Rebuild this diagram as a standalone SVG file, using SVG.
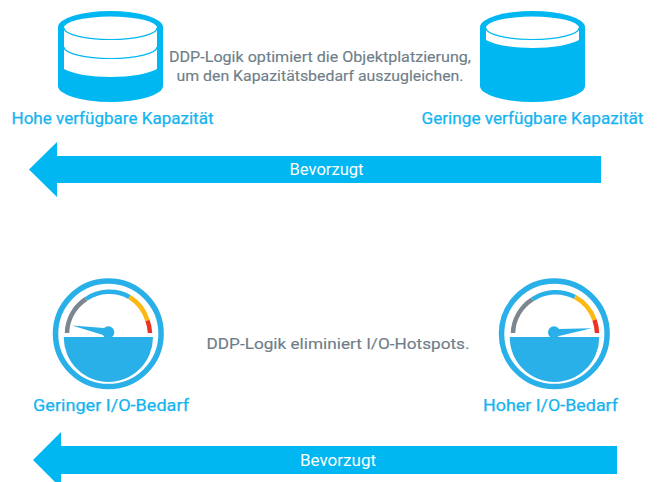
<svg xmlns="http://www.w3.org/2000/svg" width="661" height="482" viewBox="0 0 661 482">
<style>
text{font-family:Roboto,"Liberation Sans",sans-serif;text-anchor:middle;font-size:16.500px;font-weight:400}
.lab{fill:#14b4f0;stroke:#14b4f0;stroke-width:.25px}
.desc{fill:#6f7e89;font-size:15.500px;stroke:#6f7e89;stroke-width:.15px}
.wh{fill:#fff;font-size:16px}
.cyl{fill:#00b7f1}
.arrow{fill:#00b7f1}
.ring{fill:none;stroke:#2ab0e9;stroke-width:5.500}
.fillb{fill:#2ab0e9}
.arc{fill:none;stroke-width:4.500}
.ln{fill:none;stroke:#00b7f1;stroke-width:1.200}
</style>
<g id="cylinder-high">
<path class="cyl" d="M58 27A52.500 16 0 0 1 163 27V86A52.500 16 0 0 1 58 86Z"/>
<path fill="#fff" d="M64 28A46.500 11.500 0 0 1 157 28V69C148 74 130 77 110.500 77C91 77 73 74 64 69Z"/>
<path class="ln" d="M64 28A46.500 11.500 0 0 0 157 28M64 47A46.500 11.500 0 0 0 157 47"/>
</g>
<g id="cylinder-low">
<path class="cyl" d="M480 27A52.500 16 0 0 1 585 27V86A52.500 16 0 0 1 480 86Z"/>
<path fill="#fff" d="M486 28A46.500 11.500 0 0 1 579 28V40C570 45 552 48 532.500 48C513 48 495 45 486 40Z"/>
<path class="ln" d="M486 28A46.500 11.500 0 0 0 579 28"/>
</g>
<g id="label-high"><text class="lab" x="112.500" y="124" textLength="202" lengthAdjust="spacingAndGlyphs">Hohe verfügbare Kapazität</text></g>
<g id="label-low"><text class="lab" x="532.500" y="124" textLength="222" lengthAdjust="spacingAndGlyphs">Geringe verfügbare Kapazität</text></g>
<g id="desc-top">
<text class="desc" x="320" y="62" textLength="302" lengthAdjust="spacingAndGlyphs">DDP-Logik optimiert die Objektplatzierung,</text>
<text class="desc" x="320" y="81" textLength="287" lengthAdjust="spacingAndGlyphs">um den Kapazitätsbedarf auszugleichen.</text>
</g>
<g id="connectors">
<polygon class="arrow" points="29,169.500 57,142 57,156 601,156 601,183 57,183 57,197"/>
<polygon class="arrow" points="33,460 61,432 61,446 617,446 617,474 61,474 61,488"/>
</g>
<g id="pref-top"><text class="wh" x="326.500" y="175" textLength="74" lengthAdjust="spacingAndGlyphs">Bevorzugt</text></g>
<g id="pref-bottom"><text class="wh" x="338" y="466" textLength="76" lengthAdjust="spacingAndGlyphs">Bevorzugt</text></g>
<g id="gauge-low">
<circle class="ring" cx="108.300" cy="333.800" r="52.800"/>
<path class="fillb" d="M63.700 337H153A44.650 45 0 0 1 63.700 337Z"/>
<path class="arc" stroke="#7b868f" d="M67 333A41.500 41.500 0 0 1 86 299"/>
<path class="arc" stroke="#2ab0e9" d="M86 299A41.500 41.500 0 0 1 129.500 297"/>
<path class="arc" stroke="#fdb913" d="M129.500 297A41.500 41.500 0 0 1 147.500 320.500"/>
<path class="arc" stroke="#ee3124" d="M147.500 320.500A41.500 41.500 0 0 1 150 333"/>
<circle class="fillb" cx="108.300" cy="332.300" r="6"/>
<polygon class="fillb" points="72,325.500 104,328 103,335"/>
</g>
<g id="gauge-high">
<circle class="ring" cx="554.300" cy="333.800" r="52.800"/>
<path class="fillb" d="M509.700 337H599.300A44.800 45 0 0 1 509.700 337Z"/>
<path class="arc" stroke="#7b868f" d="M513 333A41.500 41.500 0 0 1 532.300 299.300"/>
<path class="arc" stroke="#2ab0e9" d="M532.300 299.300A41.500 41.500 0 0 1 575 297"/>
<path class="arc" stroke="#fdb913" d="M575 297A41.500 41.500 0 0 1 594.500 320"/>
<path class="arc" stroke="#ee3124" d="M594.500 320A41.500 41.500 0 0 1 597 333"/>
<circle class="fillb" cx="554" cy="332.300" r="6"/>
<polygon class="fillb" points="591.700,328.300 558,329 559,336"/>
</g>
<g id="label-low-io"><text class="lab" x="111" y="411" textLength="156" lengthAdjust="spacingAndGlyphs">Geringer I/O-Bedarf</text></g>
<g id="label-high-io"><text class="lab" x="550.500" y="411" textLength="135" lengthAdjust="spacingAndGlyphs">Hoher I/O-Bedarf</text></g>
<g id="desc-bottom"><text class="desc" x="338" y="349" textLength="263" lengthAdjust="spacingAndGlyphs">DDP-Logik eliminiert I/O-Hotspots.</text></g>
</svg>
